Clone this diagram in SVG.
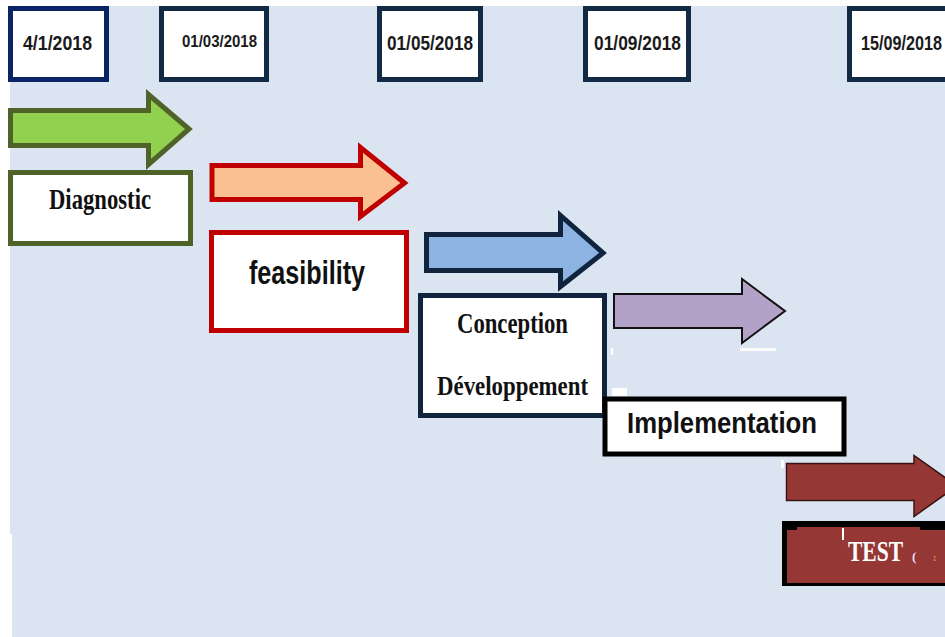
<svg xmlns="http://www.w3.org/2000/svg" width="945" height="637" viewBox="0 0 945 637">
<style>
.date rect{fill:#fff;stroke-width:5}
.date text{font-family:"Liberation Sans",Arial,sans-serif;font-weight:bold;fill:#1a1a1a}
.box{fill:#fff;stroke-width:5}
.serif{font-family:"Liberation Serif","Times New Roman",serif;font-weight:bold;fill:#111}
.sans{font-family:"Liberation Sans",Arial,sans-serif;font-weight:bold;fill:#111}
</style>
<rect x="0" y="0" width="945" height="637" fill="#fff"/>
<rect x="10" y="6" width="935" height="528" fill="#dbe5f1"/>
<rect x="12" y="533" width="933" height="104" fill="#dbe5f1"/>

<g id="date1" class="date"><rect x="10.5" y="8.5" width="96" height="71" stroke="#0b2466"/><text x="23" y="50" font-size="20" textLength="69" lengthAdjust="spacingAndGlyphs">4/1/2018</text></g>
<g id="date2" class="date"><rect x="161.5" y="8.5" width="105" height="71" stroke="#132a45"/><text x="182" y="47" font-size="16" textLength="75" lengthAdjust="spacingAndGlyphs">01/03/2018</text></g>
<g id="date3" class="date"><rect x="379.5" y="8.5" width="101" height="71" stroke="#132a45"/><text x="387" y="50" font-size="20" textLength="86" lengthAdjust="spacingAndGlyphs">01/05/2018</text></g>
<g id="date4" class="date"><rect x="585.5" y="8.5" width="103" height="71" stroke="#132a45"/><text x="594" y="50" font-size="20" textLength="87" lengthAdjust="spacingAndGlyphs">01/09/2018</text></g>
<g id="date5" class="date"><rect x="849.5" y="8.5" width="120" height="71" stroke="#132a45"/><text transform="translate(861,50) scale(0.81,1)" x="0" y="0" font-size="20">15/09/2018</text></g>

<g id="connectors">
<path d="M10.5,110.5 H148.5 V94.5 L189,129 L148.5,164.5 V145.5 H10.5 Z" fill="#92d050" stroke="#4f6228" stroke-width="5"/>
<path d="M212,165.5 H360.5 V147.5 L404.5,183 L360.5,216.5 V199.5 H212 Z" fill="#fac090" stroke="#c00000" stroke-width="5"/>
<path d="M426.5,234.5 H560.5 V215.5 L603,253 L560.5,286.5 V270.5 H426.5 Z" fill="#8db3e2" stroke="#10243e" stroke-width="5"/>
<path d="M614,294 H742 V279 L785,311 L742,343 V328 H614 Z" fill="#b2a2c7" stroke="#111" stroke-width="2"/>
<path d="M786.5,463.5 H914 V455.5 L957,486 L914,516.5 V500.5 H786.5 Z" fill="#953735" stroke="#3a1414" stroke-width="1.5"/>
</g>

<g id="diagnostic"><rect class="box" x="10.5" y="172.5" width="180" height="71" stroke="#4f6228"/><text class="serif" x="49" y="209" font-size="29" textLength="102" lengthAdjust="spacingAndGlyphs">Diagnostic</text></g>
<g id="feasibility"><rect class="box" x="211.5" y="232.5" width="195" height="98" stroke="#c00000"/><text class="sans" x="249" y="284" font-size="34" textLength="116" lengthAdjust="spacingAndGlyphs">feasibility</text></g>
<g id="conception"><rect class="box" x="420.5" y="295.5" width="184" height="120" stroke="#10243e"/><text class="serif" x="457" y="333" font-size="29" textLength="111" lengthAdjust="spacingAndGlyphs">Conception</text><text class="serif" x="437" y="395" font-size="28" textLength="151" lengthAdjust="spacingAndGlyphs">Développement</text></g>
<g id="implementation"><rect class="box" x="605" y="399" width="239" height="55" stroke="#000" stroke-width="6"/><text class="sans" x="627" y="433" font-size="30" textLength="190" lengthAdjust="spacingAndGlyphs">Implementation</text></g>
<g id="test"><rect x="782" y="521" width="170" height="65" fill="#000"/><rect x="787" y="527" width="165" height="56" fill="#953735"/><rect x="787" y="527" width="10" height="3" fill="#000"/><rect x="920" y="527" width="32" height="3" fill="#000"/><rect x="842" y="528" width="2" height="12" fill="#fff"/><text class="serif" transform="translate(848,561) scale(0.717,1)" x="0" y="0" font-size="30" style="fill:#fff">TEST</text><text class="serif" x="912" y="561" font-size="13" style="fill:#e8e0f0">(</text><text class="serif" x="933" y="561" font-size="10" style="fill:#e0a040">:</text></g>

<g id="artifacts" fill="#fff">
<rect x="740" y="348" width="36" height="3"/>
<rect x="611" y="348" width="2" height="7"/>
<rect x="612" y="388" width="15" height="8"/>
<rect x="781" y="460" width="3" height="8"/>
</g>
</svg>
